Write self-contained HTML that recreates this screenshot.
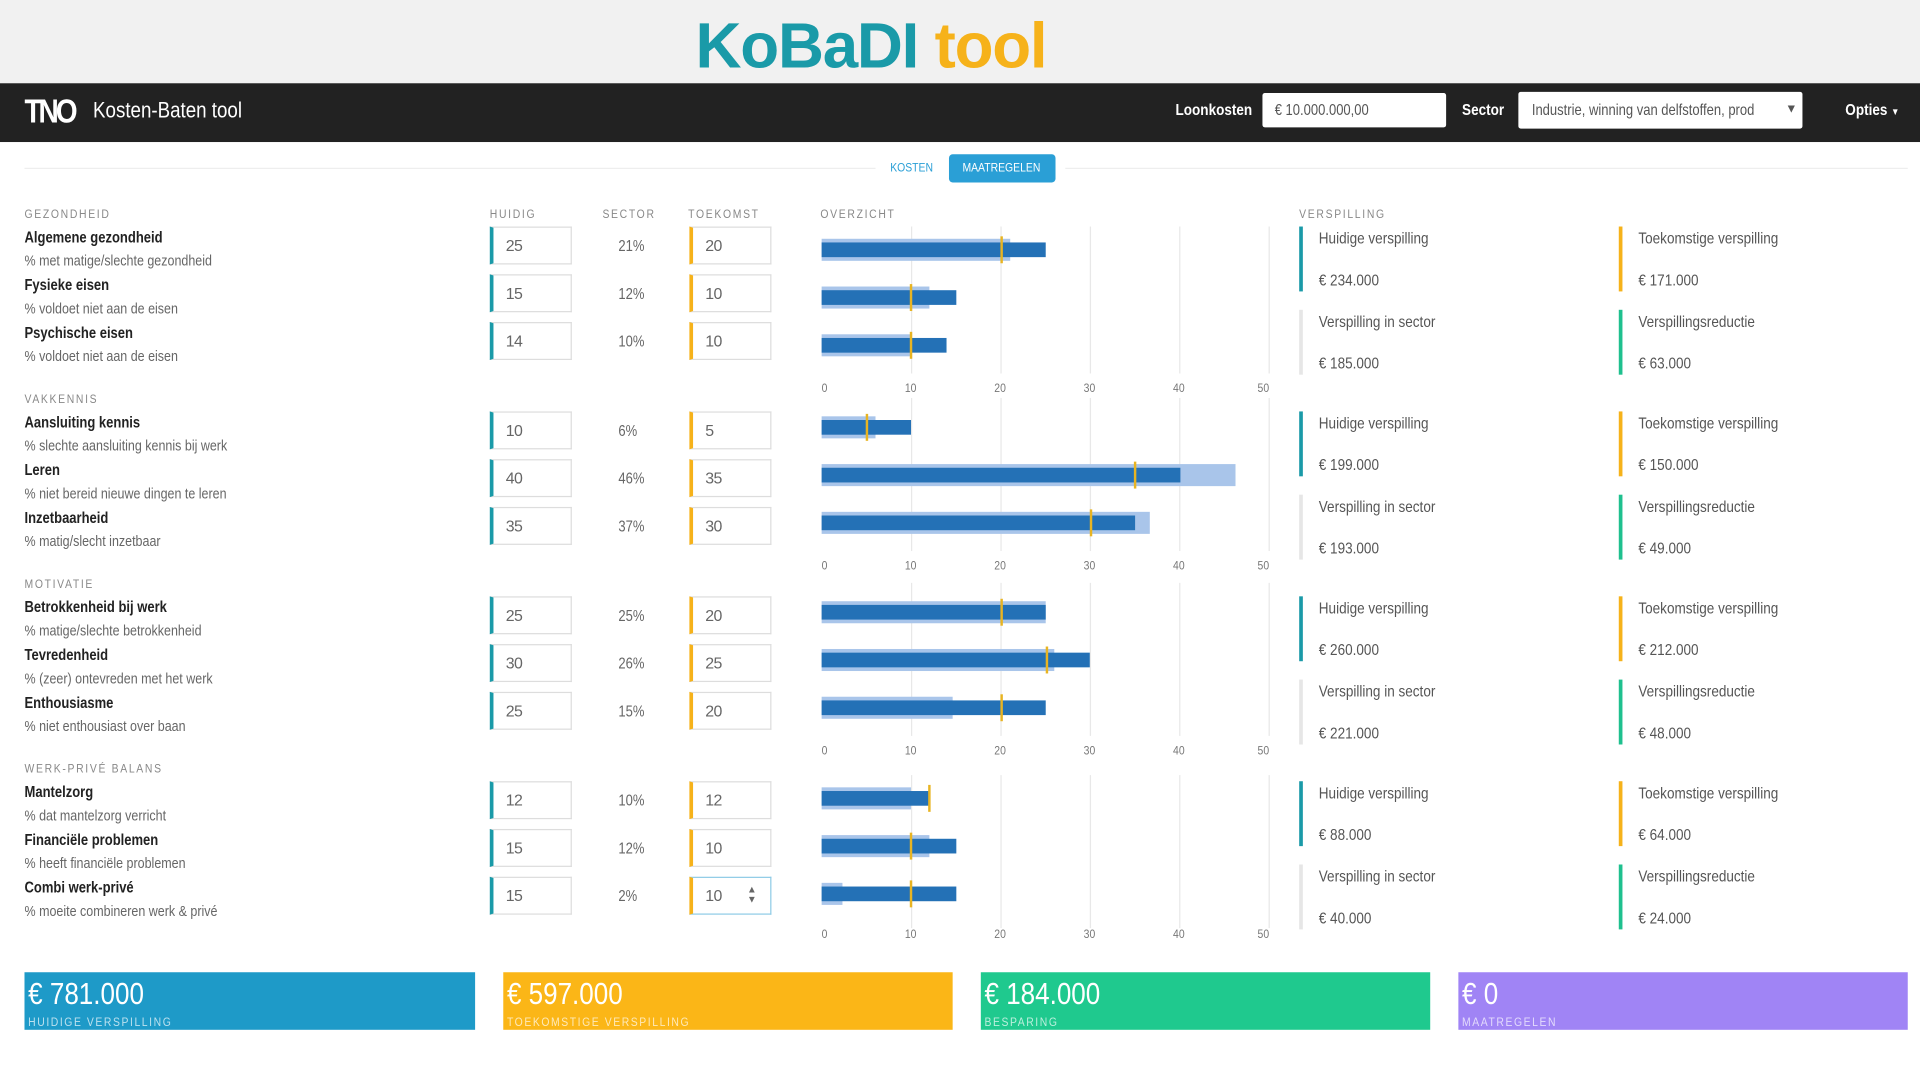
<!DOCTYPE html>
<html><head><meta charset="utf-8"><style>
html,body{margin:0;padding:0;width:1920px;height:1080px;overflow:hidden;background:#fff}
#w{position:absolute;left:0;top:0;width:1568px;height:882px;transform:scale(1.22449);transform-origin:0 0;font-family:"Liberation Sans",sans-serif;color:#333}
#w div{position:absolute}
.a,.n,.l{position:absolute;white-space:nowrap;transform:scaleX(.85);transform-origin:0 0}
.hd{font-size:10px;letter-spacing:1.6px;color:#888}
.t{font-size:12.5px;color:#222;font-weight:bold}
.s{font-size:12px;color:#666}
.bx{border:1px solid #ddd;border-left:3px solid #1a9aa8;font-size:13px;color:#666;line-height:29px;padding-left:10px;box-sizing:border-box;width:67px;height:31px;letter-spacing:-.5px}
.by{border-left-color:#f6b21a}
.pc{font-size:12.5px;color:#666}
.g{width:1px;background:#e8e8e8}
.lb{height:18px;background:#a9c5ea}
.db{height:12px;background:#2471b6}
.mk{width:2px;height:22px;background:#e8b422}
.tk{font-size:10px;color:#777}
.vb{width:3px;height:53px}
.vt{font-size:13px;color:#555}
.bb{height:47px;color:#fff;overflow:hidden}
.bb .n{left:3px;top:4px;font-size:25px}
.bb .l{left:3px;top:36px;font-size:10px;letter-spacing:1.5px;opacity:.7}
</style></head><body><div id="w">
<div style="left:0;top:0;width:1568px;height:68px;background:#f1f1f1"></div>
<div style="left:568px;top:8px;font-size:52px;font-weight:bold;color:#1a9aa8;letter-spacing:-1px;white-space:nowrap">KoBaDI <span style="color:#f6b21a">tool</span></div>
<div style="left:0;top:68px;width:1568px;height:48px;background:#222"></div>
<div class="a" style="left:20px;top:76px;font-size:27px;font-weight:900;color:#fff;letter-spacing:-3px">TNO</div>
<div class="a" style="left:76px;top:80px;font-size:18px;color:#fff">Kosten-Baten tool</div>
<div class="a" style="left:960px;top:82px;font-size:13px;font-weight:bold;color:#fff">Loonkosten</div>
<div style="left:1031px;top:76px;width:150px;height:28px;background:#fff;border-radius:2px"></div>
<div class="a" style="left:1041px;top:83px;font-size:12.5px;color:#555">€ 10.000.000,00</div>
<div class="a" style="left:1194px;top:82px;font-size:13px;font-weight:bold;color:#fff">Sector</div>
<div style="left:1240px;top:75px;width:232px;height:30px;background:#fff;border-radius:2px"></div>
<div class="a" style="left:1251px;top:83px;font-size:12.5px;color:#555">Industrie, winning van delfstoffen, prod</div>
<div style="left:1458px;top:84px;font-size:10px;color:#555">▼</div>
<div class="a" style="left:1507px;top:82px;font-size:13px;font-weight:bold;color:#fff">Opties <span style="font-size:8px">▼</span></div>
<div style="left:20px;top:137px;width:695px;height:1px;background:#eee"></div>
<div style="left:870px;top:137px;width:688px;height:1px;background:#eee"></div>
<div class="a" style="left:727px;top:132px;font-size:10px;color:#2a9fd6">KOSTEN</div>
<div style="left:775px;top:126px;width:87px;height:23px;background:#2a9fd6;border-radius:3px"></div>
<div class="a" style="left:786px;top:132px;font-size:10px;color:#fff">MAATREGELEN</div>
<div class="a hd" style="left:400px;top:170px">HUIDIG</div>
<div class="a hd" style="left:492px;top:170px">SECTOR</div>
<div class="a hd" style="left:562px;top:170px">TOEKOMST</div>
<div class="a hd" style="left:670px;top:170px">OVERZICHT</div>
<div class="a hd" style="left:1061px;top:170px">VERSPILLING</div>

<!-- SECTION 1 -->
<div style="left:0;top:0;width:1568px;height:320px">
<div class="a hd" style="left:20px;top:170px">GEZONDHEID</div>
<div class="a t" style="left:20px;top:187px">Algemene gezondheid</div><div class="a s" style="left:20px;top:206px">% met matige/slechte gezondheid</div>
<div class="a t" style="left:20px;top:226px">Fysieke eisen</div><div class="a s" style="left:20px;top:245px">% voldoet niet aan de eisen</div>
<div class="a t" style="left:20px;top:265px">Psychische eisen</div><div class="a s" style="left:20px;top:284px">% voldoet niet aan de eisen</div>
<div class="bx" style="left:400px;top:185px">25</div><div class="bx" style="left:400px;top:224px">15</div><div class="bx" style="left:400px;top:263px">14</div>
<div class="a pc" style="left:505px;top:194px">21%</div><div class="a pc" style="left:505px;top:233px">12%</div><div class="a pc" style="left:505px;top:272px">10%</div>
<div class="bx by" style="left:563px;top:185px">20</div><div class="bx by" style="left:563px;top:224px">10</div><div class="bx by" style="left:563px;top:263px">10</div>
<div class="g" style="left:744px;top:185px;height:120px"></div><div class="g" style="left:817px;top:185px;height:120px"></div><div class="g" style="left:890px;top:185px;height:120px"></div><div class="g" style="left:963px;top:185px;height:120px"></div><div class="g" style="left:1036px;top:185px;height:120px"></div>
<div class="lb" style="left:671px;top:195px;width:154px"></div><div class="db" style="left:671px;top:198px;width:183px"></div><div class="mk" style="left:817px;top:193px"></div>
<div class="lb" style="left:671px;top:234px;width:88px"></div><div class="db" style="left:671px;top:237px;width:110px"></div><div class="mk" style="left:743px;top:232px"></div>
<div class="lb" style="left:671px;top:273px;width:73px"></div><div class="db" style="left:671px;top:276px;width:102px"></div><div class="mk" style="left:743px;top:271px"></div>
<div class="a tk" style="left:671px;top:312px">0</div><div class="a tk" style="left:739px;top:312px">10</div><div class="a tk" style="left:812px;top:312px">20</div><div class="a tk" style="left:885px;top:312px">30</div><div class="a tk" style="left:958px;top:312px">40</div><div class="a tk" style="left:1027px;top:312px">50</div>
<div class="vb" style="left:1061px;top:185px;background:#1a9aa8"></div><div class="a vt" style="left:1077px;top:187px">Huidige verspilling</div><div class="a vt" style="left:1077px;top:221px">€ 234.000</div>
<div class="vb" style="left:1322px;top:185px;background:#f6b21a"></div><div class="a vt" style="left:1338px;top:187px">Toekomstige verspilling</div><div class="a vt" style="left:1338px;top:221px">€ 171.000</div>
<div class="vb" style="left:1061px;top:253px;background:#e6e6e6"></div><div class="a vt" style="left:1077px;top:255px">Verspilling in sector</div><div class="a vt" style="left:1077px;top:289px">€ 185.000</div>
<div class="vb" style="left:1322px;top:253px;background:#1fc08e"></div><div class="a vt" style="left:1338px;top:255px">Verspillingsreductie</div><div class="a vt" style="left:1338px;top:289px">€ 63.000</div>
</div>

<!-- SECTION 2 -->
<div style="left:0;top:151px;width:1568px;height:320px">
<div class="a hd" style="left:20px;top:170px">VAKKENNIS</div>
<div class="a t" style="left:20px;top:187px">Aansluiting kennis</div><div class="a s" style="left:20px;top:206px">% slechte aansluiting kennis bij werk</div>
<div class="a t" style="left:20px;top:226px">Leren</div><div class="a s" style="left:20px;top:245px">% niet bereid nieuwe dingen te leren</div>
<div class="a t" style="left:20px;top:265px">Inzetbaarheid</div><div class="a s" style="left:20px;top:284px">% matig/slecht inzetbaar</div>
<div class="bx" style="left:400px;top:185px">10</div><div class="bx" style="left:400px;top:224px">40</div><div class="bx" style="left:400px;top:263px">35</div>
<div class="a pc" style="left:505px;top:194px">6%</div><div class="a pc" style="left:505px;top:233px">46%</div><div class="a pc" style="left:505px;top:272px">37%</div>
<div class="bx by" style="left:563px;top:185px">5</div><div class="bx by" style="left:563px;top:224px">35</div><div class="bx by" style="left:563px;top:263px">30</div>
<div style="left:0;top:-6px;width:1568px;height:320px">
<div class="g" style="left:744px;top:180px;height:125px"></div><div class="g" style="left:817px;top:180px;height:125px"></div><div class="g" style="left:890px;top:180px;height:125px"></div><div class="g" style="left:963px;top:180px;height:125px"></div><div class="g" style="left:1036px;top:180px;height:125px"></div>
<div class="lb" style="left:671px;top:195px;width:44px"></div><div class="db" style="left:671px;top:198px;width:73px"></div><div class="mk" style="left:707px;top:193px"></div>
<div class="lb" style="left:671px;top:234px;width:338px"></div><div class="db" style="left:671px;top:237px;width:293px"></div><div class="mk" style="left:926px;top:232px"></div>
<div class="lb" style="left:671px;top:273px;width:268px"></div><div class="db" style="left:671px;top:276px;width:256px"></div><div class="mk" style="left:890px;top:271px"></div>
<div class="a tk" style="left:671px;top:312px">0</div><div class="a tk" style="left:739px;top:312px">10</div><div class="a tk" style="left:812px;top:312px">20</div><div class="a tk" style="left:885px;top:312px">30</div><div class="a tk" style="left:958px;top:312px">40</div><div class="a tk" style="left:1027px;top:312px">50</div>
</div>
<div class="vb" style="left:1061px;top:185px;background:#1a9aa8"></div><div class="a vt" style="left:1077px;top:187px">Huidige verspilling</div><div class="a vt" style="left:1077px;top:221px">€ 199.000</div>
<div class="vb" style="left:1322px;top:185px;background:#f6b21a"></div><div class="a vt" style="left:1338px;top:187px">Toekomstige verspilling</div><div class="a vt" style="left:1338px;top:221px">€ 150.000</div>
<div class="vb" style="left:1061px;top:253px;background:#e6e6e6"></div><div class="a vt" style="left:1077px;top:255px">Verspilling in sector</div><div class="a vt" style="left:1077px;top:289px">€ 193.000</div>
<div class="vb" style="left:1322px;top:253px;background:#1fc08e"></div><div class="a vt" style="left:1338px;top:255px">Verspillingsreductie</div><div class="a vt" style="left:1338px;top:289px">€ 49.000</div>
</div>

<!-- SECTION 3 -->
<div style="left:0;top:302px;width:1568px;height:320px">
<div class="a hd" style="left:20px;top:170px">MOTIVATIE</div>
<div class="a t" style="left:20px;top:187px">Betrokkenheid bij werk</div><div class="a s" style="left:20px;top:206px">% matige/slechte betrokkenheid</div>
<div class="a t" style="left:20px;top:226px">Tevredenheid</div><div class="a s" style="left:20px;top:245px">% (zeer) ontevreden met het werk</div>
<div class="a t" style="left:20px;top:265px">Enthousiasme</div><div class="a s" style="left:20px;top:284px">% niet enthousiast over baan</div>
<div class="bx" style="left:400px;top:185px">25</div><div class="bx" style="left:400px;top:224px">30</div><div class="bx" style="left:400px;top:263px">25</div>
<div class="a pc" style="left:505px;top:194px">25%</div><div class="a pc" style="left:505px;top:233px">26%</div><div class="a pc" style="left:505px;top:272px">15%</div>
<div class="bx by" style="left:563px;top:185px">20</div><div class="bx by" style="left:563px;top:224px">25</div><div class="bx by" style="left:563px;top:263px">20</div>
<div style="left:0;top:-6px;width:1568px;height:320px">
<div class="g" style="left:744px;top:180px;height:125px"></div><div class="g" style="left:817px;top:180px;height:125px"></div><div class="g" style="left:890px;top:180px;height:125px"></div><div class="g" style="left:963px;top:180px;height:125px"></div><div class="g" style="left:1036px;top:180px;height:125px"></div>
<div class="lb" style="left:671px;top:195px;width:183px"></div><div class="db" style="left:671px;top:198px;width:183px"></div><div class="mk" style="left:817px;top:193px"></div>
<div class="lb" style="left:671px;top:234px;width:190px"></div><div class="db" style="left:671px;top:237px;width:219px"></div><div class="mk" style="left:854px;top:232px"></div>
<div class="lb" style="left:671px;top:273px;width:107px"></div><div class="db" style="left:671px;top:276px;width:183px"></div><div class="mk" style="left:817px;top:271px"></div>
<div class="a tk" style="left:671px;top:312px">0</div><div class="a tk" style="left:739px;top:312px">10</div><div class="a tk" style="left:812px;top:312px">20</div><div class="a tk" style="left:885px;top:312px">30</div><div class="a tk" style="left:958px;top:312px">40</div><div class="a tk" style="left:1027px;top:312px">50</div>
</div>
<div class="vb" style="left:1061px;top:185px;background:#1a9aa8"></div><div class="a vt" style="left:1077px;top:187px">Huidige verspilling</div><div class="a vt" style="left:1077px;top:221px">€ 260.000</div>
<div class="vb" style="left:1322px;top:185px;background:#f6b21a"></div><div class="a vt" style="left:1338px;top:187px">Toekomstige verspilling</div><div class="a vt" style="left:1338px;top:221px">€ 212.000</div>
<div class="vb" style="left:1061px;top:253px;background:#e6e6e6"></div><div class="a vt" style="left:1077px;top:255px">Verspilling in sector</div><div class="a vt" style="left:1077px;top:289px">€ 221.000</div>
<div class="vb" style="left:1322px;top:253px;background:#1fc08e"></div><div class="a vt" style="left:1338px;top:255px">Verspillingsreductie</div><div class="a vt" style="left:1338px;top:289px">€ 48.000</div>
</div>

<!-- SECTION 4 -->
<div style="left:0;top:453px;width:1568px;height:320px">
<div class="a hd" style="left:20px;top:170px">WERK-PRIVÉ BALANS</div>
<div class="a t" style="left:20px;top:187px">Mantelzorg</div><div class="a s" style="left:20px;top:206px">% dat mantelzorg verricht</div>
<div class="a t" style="left:20px;top:226px">Financiële problemen</div><div class="a s" style="left:20px;top:245px">% heeft financiële problemen</div>
<div class="a t" style="left:20px;top:265px">Combi werk-privé</div><div class="a s" style="left:20px;top:284px">% moeite combineren werk &amp; privé</div>
<div class="bx" style="left:400px;top:185px">12</div><div class="bx" style="left:400px;top:224px">15</div><div class="bx" style="left:400px;top:263px">15</div>
<div class="a pc" style="left:505px;top:194px">10%</div><div class="a pc" style="left:505px;top:233px">12%</div><div class="a pc" style="left:505px;top:272px">2%</div>
<div class="bx by" style="left:563px;top:185px">12</div><div class="bx by" style="left:563px;top:224px">10</div><div class="bx by" style="left:563px;top:263px;border-color:#8fcbe6;border-left-color:#f6b21a">10</div>
<div style="left:610px;top:270px;font-size:8px;color:#666;line-height:8px">▲<br>▼</div>
<div class="g" style="left:744px;top:180px;height:125px"></div><div class="g" style="left:817px;top:180px;height:125px"></div><div class="g" style="left:890px;top:180px;height:125px"></div><div class="g" style="left:963px;top:180px;height:125px"></div><div class="g" style="left:1036px;top:180px;height:125px"></div>
<div class="lb" style="left:671px;top:190px;width:73px"></div><div class="db" style="left:671px;top:193px;width:88px"></div><div class="mk" style="left:758px;top:188px"></div>
<div class="lb" style="left:671px;top:229px;width:88px"></div><div class="db" style="left:671px;top:232px;width:110px"></div><div class="mk" style="left:743px;top:227px"></div>
<div class="lb" style="left:671px;top:268px;width:17px"></div><div class="db" style="left:671px;top:271px;width:110px"></div><div class="mk" style="left:743px;top:266px"></div>
<div class="a tk" style="left:671px;top:305px">0</div><div class="a tk" style="left:739px;top:305px">10</div><div class="a tk" style="left:812px;top:305px">20</div><div class="a tk" style="left:885px;top:305px">30</div><div class="a tk" style="left:958px;top:305px">40</div><div class="a tk" style="left:1027px;top:305px">50</div>
<div class="vb" style="left:1061px;top:185px;background:#1a9aa8"></div><div class="a vt" style="left:1077px;top:187px">Huidige verspilling</div><div class="a vt" style="left:1077px;top:221px">€ 88.000</div>
<div class="vb" style="left:1322px;top:185px;background:#f6b21a"></div><div class="a vt" style="left:1338px;top:187px">Toekomstige verspilling</div><div class="a vt" style="left:1338px;top:221px">€ 64.000</div>
<div class="vb" style="left:1061px;top:253px;background:#e6e6e6"></div><div class="a vt" style="left:1077px;top:255px">Verspilling in sector</div><div class="a vt" style="left:1077px;top:289px">€ 40.000</div>
<div class="vb" style="left:1322px;top:253px;background:#1fc08e"></div><div class="a vt" style="left:1338px;top:255px">Verspillingsreductie</div><div class="a vt" style="left:1338px;top:289px">€ 24.000</div>
</div>

<div class="bb" style="left:20px;top:794px;width:368px;background:#1e9ac8"><span class="n">€ 781.000</span><span class="l">HUIDIGE VERSPILLING</span></div>
<div class="bb" style="left:411px;top:794px;width:367px;background:#fbb617"><span class="n">€ 597.000</span><span class="l">TOEKOMSTIGE VERSPILLING</span></div>
<div class="bb" style="left:801px;top:794px;width:367px;background:#1fc98e"><span class="n">€ 184.000</span><span class="l">BESPARING</span></div>
<div class="bb" style="left:1191px;top:794px;width:367px;background:#a084f5"><span class="n">€ 0</span><span class="l">MAATREGELEN</span></div>
</div></body></html>
